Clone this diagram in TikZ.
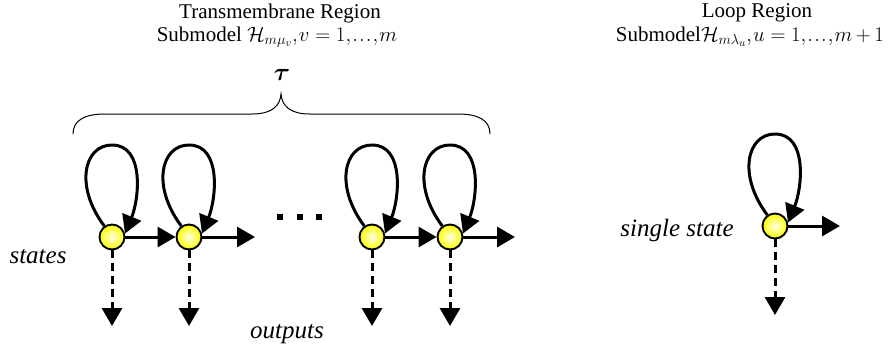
\documentclass[tikz,border=0pt]{standalone}
\usepackage{bm}
\usepackage{fontspec}
\setmainfont{Liberation Serif}
\usetikzlibrary{arrows.meta,calc}
\tikzset{
  statenode/.style={circle, draw=black, line width=1.9pt, minimum size=25pt, inner sep=0pt,
    inner color=yellow!10!white, outer color=yellow},
  arr/.style={line width=3pt, -{Triangle[length=18pt,width=20pt]}},
  dasharr/.style={arr, dash pattern=on 8pt off 5pt},
  brace/.style={line width=1pt},
  lbl/.style={font=\fontsize{25}{28}\selectfont\itshape, inner sep=0pt},
  ttl/.style={font=\fontsize{21}{24}\selectfont, inner sep=0pt},
  taustyle/.style={font=\fontsize{46}{50}\selectfont, inner sep=0pt},
  dotsq/.style={fill=black, minimum size=6pt, inner sep=0pt}
}
\newcommand{\selfloop}[1]{%
  \draw[arr] (#1.125) .. controls +(-30,-40) and +(-28,0) .. ($(#1)+(0,-92)$)
    .. controls +(33,0) and +(14,-34) .. (#1.15);}
\newcommand{\tightmath}{\thickmuskip=5mu plus 1mu\medmuskip=3mu\thinmuskip=1mu}
\begin{document}
\begin{tikzpicture}[x=1pt,y=-1pt]
\path[use as bounding box] (0,0) rectangle (890,354);
% titles
\node[ttl] (t1) at (280,13) {Transmembrane Region};
\node[ttl] (t2) at (277,37) {\tightmath Submodel $\mathcal{H}_{m\mu_v}, v=1,\ldots,m$};
\node[ttl] (t3) at (757,13) {Loop Region};
\node[ttl, anchor=east] (t4) at (884,37) {\tightmath Submodel$\mathcal{H}_{m\lambda_u}, u=1,\ldots,m+1$};
\node[taustyle] (tau) at (282,75) {$\bm{\tau}$};
% brace
\draw[brace] (73,134) .. controls (73,120) and (85,114) .. (105,114) -- (252,114)
  .. controls (272,114) and (280,106) .. (281,94)
  .. controls (282,106) and (290,114) .. (310,114) -- (458,114)
  .. controls (478,114) and (490,120) .. (490,134);
% states
\node[statenode] (s1) at (112,237) {};
\node[statenode] (s2) at (189,237) {};
\node[statenode] (s3) at (372,237) {};
\node[statenode] (s4) at (450,237) {};
\node[statenode] (s5) at (775,226) {};
% free ends
\coordinate (r2) at (255,237);
\coordinate (r4) at (515,237);
\coordinate (r5) at (840,226);
\coordinate (o1) at (112,326);
\coordinate (o2) at (189,326);
\coordinate (o3) at (372,326);
\coordinate (o4) at (450,326);
\coordinate (o5) at (775,315);
% loops
\selfloop{s1}
\selfloop{s2}
\selfloop{s3}
\selfloop{s4}
\selfloop{s5}
% transitions
\draw[arr] (s1) -- (s2);
\draw[arr] (s2) -- (r2);
\draw[arr] (s3) -- (s4);
\draw[arr] (s4) -- (r4);
\draw[arr] (s5) -- (r5);
% outputs
\draw[dasharr] (s1) -- (o1);
\draw[dasharr] (s2) -- (o2);
\draw[dasharr] (s3) -- (o3);
\draw[dasharr] (s4) -- (o4);
\draw[dasharr] (s5) -- (o5);
% dots
\node[dotsq] (d1) at (280,217) {};
\node[dotsq] (d2) at (300,217) {};
\node[dotsq] (d3) at (319,217) {};
% labels
\node[lbl] (l1) at (38,257) {states};
\node[lbl] (l2) at (287,334) {outputs};
\node[lbl] (l3) at (677,230) {single state};
\end{tikzpicture}
\end{document}
